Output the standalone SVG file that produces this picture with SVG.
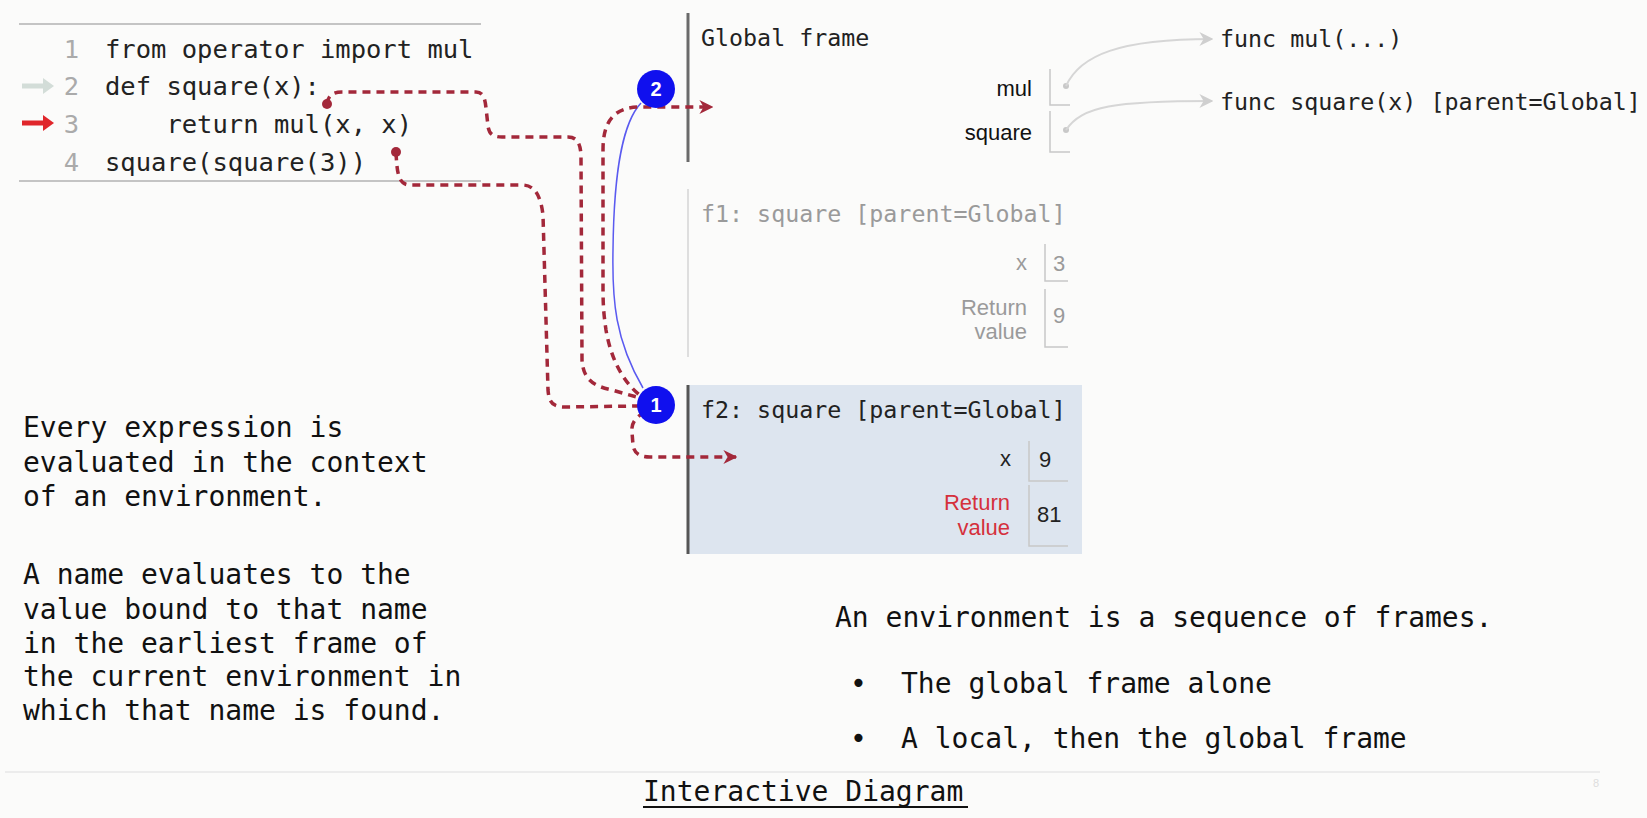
<svg xmlns="http://www.w3.org/2000/svg" width="1647" height="818" viewBox="0 0 1647 818">
<defs>
<style>
.mono{font-family:"DejaVu Sans Mono","Liberation Mono",monospace}
.sans{font-family:"Liberation Sans","DejaVu Sans",sans-serif}
.code{font-size:25.5px;fill:#222}
.ln{font-size:25.5px;fill:#aaa}
.prose{font-size:28px;fill:#111}
.flabel{font-size:23.3px}
.var{font-size:22px;text-anchor:end}
.val{font-size:22px;fill:#222}
.dash{fill:none;stroke:#a3283a;stroke-width:3.5;stroke-dasharray:8 6}
.box{fill:none;stroke:#c8c8c8;stroke-width:1.5}
.circ{fill:#1010ee}
.cnum{font-size:20px;font-weight:bold;fill:#fff;text-anchor:middle}
</style>
<marker id="ah" viewBox="0 0 10 10" refX="9" refY="5" markerWidth="4" markerHeight="4" orient="auto" markerUnits="strokeWidth">
<path d="M0,0 L10,5 L0,10 L3,5 Z" fill="#a3283a"/>
</marker>
<marker id="gh" viewBox="0 0 10 10" refX="9" refY="5" markerWidth="7" markerHeight="7" orient="auto" markerUnits="strokeWidth">
<path d="M0,0 L10,5 L0,10 L3,5 Z" fill="#cfcfcf"/>
</marker>
</defs>
<rect width="1647" height="818" fill="#fbfbfa"/>

<g id="code">
<line x1="19" y1="24" x2="481" y2="24" stroke="#c4c4c4" stroke-width="2"/>
<line x1="19" y1="181" x2="481" y2="181" stroke="#c4c4c4" stroke-width="2"/>
<text class="mono ln" x="79" y="58" text-anchor="end">1</text>
<text class="mono ln" x="79" y="95" text-anchor="end">2</text>
<text class="mono ln" x="79" y="133" text-anchor="end">3</text>
<text class="mono ln" x="79" y="171" text-anchor="end">4</text>
<text class="mono code" x="105" y="58">from operator import mul</text>
<text class="mono code" x="105" y="95">def square(x):</text>
<text class="mono code" x="105" y="133" xml:space="preserve">    return mul(x, x)</text>
<text class="mono code" x="105" y="171">square(square(3))</text>
<path d="M22,83.5 H43 V78 L54,86 L43,94 V88.5 H22 Z" fill="#d3ddd8"/>
<path d="M22,120.5 H43 V115 L54,123 L43,131 V125.5 H22 Z" fill="#e0262b"/>
</g>

<g id="global-frame">
<line x1="688" y1="13" x2="688" y2="162" stroke="#6a6a6a" stroke-width="3"/>
<text class="mono flabel" x="701" y="46" fill="#222">Global frame</text>
<text class="sans var" x="1032" y="96" fill="#111">mul</text>
<text class="sans var" x="1032" y="140" fill="#111">square</text>
<path class="box" d="M1050,69 V105 H1070"/>
<path class="box" d="M1050,111 V152 H1070"/>
<circle cx="1066" cy="86" r="3" fill="#c8c8c8"/>
<circle cx="1066" cy="130" r="3" fill="#c8c8c8"/>
</g>

<g id="func-mul">
<text class="mono flabel" x="1220" y="47" fill="#222">func mul(...)</text>
</g>
<g id="func-square">
<text class="mono flabel" x="1220" y="110" fill="#222">func square(x) [parent=Global]</text>
</g>

<g id="f1-frame">
<line x1="688" y1="189" x2="688" y2="357" stroke="#dedede" stroke-width="2"/>
<text class="mono flabel" x="701" y="222" fill="#9a9a9a">f1: square [parent=Global]</text>
<text class="sans var" x="1027" y="270" fill="#9a9a9a">x</text>
<path class="box" d="M1045,244 V281 H1068"/>
<text class="sans val" x="1053" y="271" fill="#9a9a9a" style="fill:#9a9a9a">3</text>
<text class="sans var" x="1027" y="315" fill="#9a9a9a">Return</text>
<text class="sans var" x="1027" y="339" fill="#9a9a9a">value</text>
<path class="box" d="M1045,289 V347 H1068"/>
<text class="sans val" x="1053" y="323" style="fill:#9a9a9a">9</text>
</g>

<g id="f2-frame">
<rect x="688" y="385" width="394" height="169" fill="#dde5ef"/>
<line x1="688" y1="385" x2="688" y2="554" stroke="#555" stroke-width="3"/>
<text class="mono flabel" x="701" y="418" fill="#222">f2: square [parent=Global]</text>
<text class="sans var" x="1011" y="466" fill="#222">x</text>
<path class="box" d="M1029,441 V481 H1068"/>
<text class="sans val" x="1039" y="467">9</text>
<text class="sans var" x="1010" y="510" fill="#d5303c">Return</text>
<text class="sans var" x="1010" y="535" fill="#d5303c">value</text>
<path class="box" d="M1029,485 V546 H1068"/>
<text class="sans val" x="1037" y="522">81</text>
</g>

<g id="connectors">
<path d="M1066,86 C1080,55 1120,39 1212,39" fill="none" stroke="#d6d6d6" stroke-width="2" marker-end="url(#gh)"/>
<path d="M1066,130 C1082,106 1115,101 1212,101" fill="none" stroke="#d6d6d6" stroke-width="2" marker-end="url(#gh)"/>
<path d="M643,388 C615,340 612,300 613,250 C614,160 625,120 641,103" fill="none" stroke="#5a5af0" stroke-width="1.5"/>
<path class="dash" d="M327,104 C328,96 332,92 342,92 L476,92 C483,92 485,98 486,108 L488,126 C489,134 493,137 502,137 L568,137 C578,137 581,145 581,158 L582,360 C583,378 592,386 612,390 L640,398"/>
<path class="dash" d="M396,152 C397,172 398,185 410,185 L522,185 C536,185 541,198 543,215 L548,390 C549,402 552,407 565,407 L640,406"/>
<path class="dash" d="M650,402 C628,390 612,365 606,330 C603,310 603,300 603,280 L603,150 C603,120 615,107 640,107 L712,107" marker-end="url(#ah)"/>
<path class="dash" d="M645,412 C634,418 631,425 632,432 L633,445 C634,453 639,457 650,457 L736,457" marker-end="url(#ah)"/>
<circle cx="327" cy="104" r="5" fill="#a3283a"/>
<circle cx="396" cy="152" r="5" fill="#a3283a"/>
</g>

<g id="step2">
<circle class="circ" cx="656" cy="89" r="19"/>
<text class="sans cnum" x="656" y="96">2</text>
</g>
<g id="step1">
<circle class="circ" cx="656" cy="405" r="19"/>
<text class="sans cnum" x="656" y="412">1</text>
</g>

<g id="notes">
<text class="mono prose" x="23" y="437">Every expression is</text>
<text class="mono prose" x="23" y="472">evaluated in the context</text>
<text class="mono prose" x="23" y="506">of an environment.</text>
<text class="mono prose" x="23" y="584">A name evaluates to the</text>
<text class="mono prose" x="23" y="619">value bound to that name</text>
<text class="mono prose" x="23" y="653">in the earliest frame of</text>
<text class="mono prose" x="23" y="686">the current environment in</text>
<text class="mono prose" x="23" y="720">which that name is found.</text>
<text class="mono prose" x="835" y="627">An environment is a sequence of frames.</text>
<text class="mono prose" x="850" y="693">•</text>
<text class="mono prose" x="901" y="693">The global frame alone</text>
<text class="mono prose" x="850" y="748">•</text>
<text class="mono prose" x="901" y="748">A local, then the global frame</text>
</g>

<g id="footer">
<line x1="5" y1="772" x2="1600" y2="772" stroke="#ececec" stroke-width="2"/>
<text class="mono prose" x="643" y="801">Interactive Diagram</text>
<line x1="643" y1="807" x2="968" y2="807" stroke="#111" stroke-width="2"/>
<text class="sans" x="1593" y="787" font-size="11" fill="#ddd">8</text>
</g>
</svg>
